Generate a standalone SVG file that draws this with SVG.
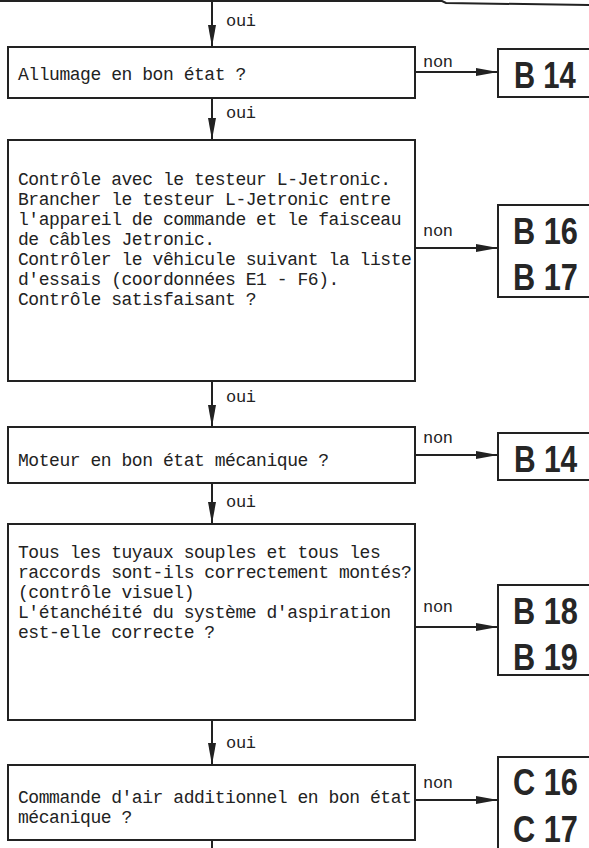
<svg xmlns="http://www.w3.org/2000/svg" width="589" height="848" viewBox="0 0 589 848">
<defs>
<style>
.box{fill:#fff;stroke:#222;stroke-width:2}
.t{font-family:"Liberation Mono","DejaVu Sans Mono",monospace;font-size:18px;letter-spacing:-0.45px;fill:#222}
.lbl{font-family:"Liberation Mono","DejaVu Sans Mono",monospace;font-size:17px;letter-spacing:-0.3px;fill:#222}
.ref{font-family:"Liberation Sans","DejaVu Sans",sans-serif;font-weight:bold;font-size:37px;fill:#262626}
.c{stroke:#222;stroke-width:2;fill:none}
</style>
<marker id="ah" markerUnits="userSpaceOnUse" markerWidth="24" markerHeight="10" refX="22" refY="4" orient="auto">
<path d="M0,0 L22,4 L0,8 z" fill="#222"/>
</marker>
</defs>
<rect width="589" height="848" fill="#fff"/>

<g id="connectors">
<polyline class="c" points="0,1 442,1 446,3 589,5"/>
<line class="c" x1="212" y1="0" x2="212" y2="47" marker-end="url(#ah)"/>
<line class="c" x1="212" y1="98" x2="212" y2="140" marker-end="url(#ah)"/>
<line class="c" x1="212" y1="381" x2="212" y2="427" marker-end="url(#ah)"/>
<line class="c" x1="212" y1="483" x2="212" y2="524" marker-end="url(#ah)"/>
<line class="c" x1="212" y1="720" x2="212" y2="765" marker-end="url(#ah)"/>
<line class="c" x1="212" y1="840" x2="212" y2="848"/>
<line class="c" x1="415" y1="72" x2="498" y2="72" marker-end="url(#ah)"/>
<line class="c" x1="415" y1="248" x2="498" y2="248" marker-end="url(#ah)"/>
<line class="c" x1="415" y1="455" x2="498" y2="455" marker-end="url(#ah)"/>
<line class="c" x1="415" y1="627" x2="498" y2="627" marker-end="url(#ah)"/>
<line class="c" x1="415" y1="800" x2="498" y2="800" marker-end="url(#ah)"/>
<text class="lbl" x="226" y="26">oui</text>
<text class="lbl" x="226" y="118">oui</text>
<text class="lbl" x="226" y="402">oui</text>
<text class="lbl" x="226" y="507">oui</text>
<text class="lbl" x="226" y="748">oui</text>
<text class="lbl" x="423" y="67">non</text>
<text class="lbl" x="423" y="236">non</text>
<text class="lbl" x="423" y="443">non</text>
<text class="lbl" x="423" y="612">non</text>
<text class="lbl" x="423" y="788">non</text>
</g>

<g id="q1">
<rect class="box" x="8" y="47" width="407" height="51"/>
<text class="t" x="18" y="80">Allumage en bon état ?</text>
</g>
<g id="r1">
<path class="box" d="M589,49 H498 V97 H589"/>
<text class="ref" transform="translate(514,88) scale(0.79,1)" font-size="39">B 14</text>
</g>

<g id="q2">
<rect class="box" x="8" y="140" width="407" height="241"/>
<text class="t" x="18" y="185">Contrôle avec le testeur L-Jetronic.</text>
<text class="t" x="18" y="205">Brancher le testeur L-Jetronic entre</text>
<text class="t" x="18" y="225">l'appareil de commande et le faisceau</text>
<text class="t" x="18" y="245">de câbles Jetronic.</text>
<text class="t" x="18" y="265">Contrôler le vêhicule suivant la liste</text>
<text class="t" x="18" y="285">d'essais (coordonnées E1 - F6).</text>
<text class="t" x="18" y="305">Contrôle satisfaisant ?</text>
</g>
<g id="r2">
<path class="box" d="M589,205 H498 V297 H589"/>
<text class="ref" transform="translate(513,244) scale(0.83,1)">B 16</text>
<text class="ref" transform="translate(513,290) scale(0.83,1)">B 17</text>
</g>

<g id="q3">
<rect class="box" x="8" y="427" width="407" height="56"/>
<text class="t" x="18" y="466">Moteur en bon état mécanique ?</text>
</g>
<g id="r3">
<path class="box" d="M589,433 H498 V480 H589"/>
<text class="ref" transform="translate(514,472) scale(0.81,1)" font-size="38">B 14</text>
</g>

<g id="q4">
<rect class="box" x="8" y="524" width="407" height="196"/>
<text class="t" x="18" y="558">Tous les tuyaux souples et tous les</text>
<text class="t" x="18" y="578">raccords sont-ils correctement montés?</text>
<text class="t" x="18" y="598">(contrôle visuel)</text>
<text class="t" x="18" y="618">L'étanchéité du système d'aspiration</text>
<text class="t" x="18" y="638">est-elle correcte ?</text>
</g>
<g id="r4">
<path class="box" d="M589,585 H498 V675 H589"/>
<text class="ref" transform="translate(513,624) scale(0.83,1)">B 18</text>
<text class="ref" transform="translate(513,670) scale(0.83,1)">B 19</text>
</g>

<g id="q5">
<rect class="box" x="8" y="765" width="407" height="75"/>
<text class="t" x="18" y="803">Commande d'air additionnel en bon état</text>
<text class="t" x="18" y="823">mécanique ?</text>
</g>
<g id="r5">
<path class="box" d="M589,757 H498 V848"/>
<text class="ref" transform="translate(513,795) scale(0.83,1)">C 16</text>
<text class="ref" transform="translate(513,842) scale(0.83,1)">C 17</text>
</g>
</svg>
